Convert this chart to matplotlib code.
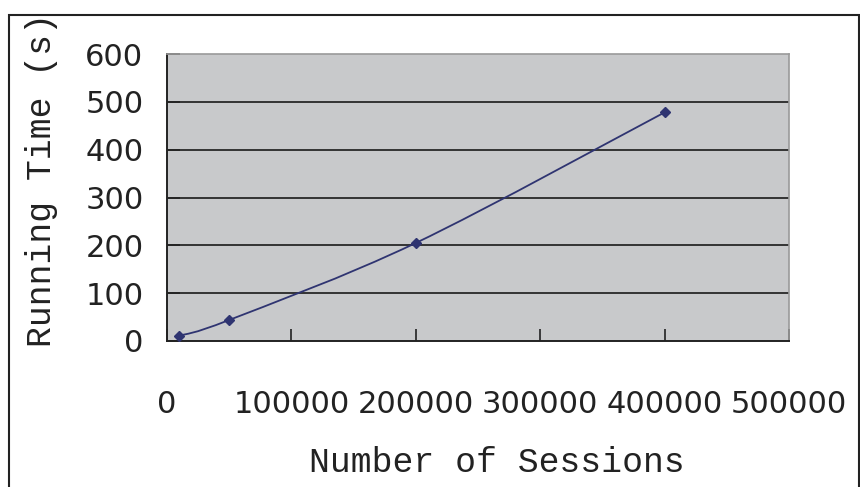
import matplotlib.pyplot as plt
from matplotlib.path import Path
from matplotlib.patches import PathPatch, Rectangle

# measured running time vs. number of sessions
sessions = [10000, 50000, 200000, 400000]
run_time = [11, 44, 205, 478]

x_ticks = [0, 100000, 200000, 300000, 400000, 500000]
y_ticks = [0, 100, 200, 300, 400, 500, 600]

mono = 'Liberation Mono'
line_col = '#2f3471'

fig = plt.figure(figsize=(8.6, 4.87), dpi=100)
ax = fig.add_axes([0.1942, 0.2998, 0.7233, 0.5893])
ax.set_facecolor('#c8c9cb')

ax.set_xlim(0, 500000)
ax.set_ylim(0, 600)
ax.set_xticks(x_ticks)
ax.set_yticks(y_ticks)
ax.set_xticklabels([str(v) for v in x_ticks])
ax.set_yticklabels([str(v) for v in y_ticks])

for v in y_ticks[1:-1]:
    ax.axhline(v, color='#1a1a1a', lw=1.2, zorder=1)

# smoothed line (catmull-rom style bezier through the points)
pts = list(zip(sessions, run_time))
verts = [pts[0]]
codes = [Path.MOVETO]
for i in range(len(pts) - 1):
    p0 = pts[max(i - 1, 0)]
    p1 = pts[i]
    p2 = pts[i + 1]
    p3 = pts[min(i + 2, len(pts) - 1)]
    c1 = (p1[0] + (p2[0] - p0[0]) / 6, p1[1] + (p2[1] - p0[1]) / 6)
    c2 = (p2[0] - (p3[0] - p1[0]) / 6, p2[1] - (p3[1] - p1[1]) / 6)
    verts += [c1, c2, p2]
    codes += [Path.CURVE4] * 3
ax.add_patch(PathPatch(Path(verts, codes), fill=False, edgecolor=line_col, lw=1.3, zorder=3))
ax.plot(sessions, run_time, ls='none', marker='D', ms=5, color=line_col, zorder=4)

for s in ['left', 'bottom']:
    ax.spines[s].set_color('#222222')
    ax.spines[s].set_linewidth(1.4)
for s in ['top', 'right']:
    ax.spines[s].set_color('#9a9a9a')
    ax.spines[s].set_linewidth(1.2)

ax.tick_params(axis='both', direction='in', length=9, width=1.2, color='#222222',
               labelsize=22, labelcolor='#222222')
ax.tick_params(axis='y', pad=17)
ax.tick_params(axis='x', pad=35)

fig.text(0.5779, 1 - 463 / 487, 'Number of Sessions', family=mono, fontsize=25,
         ha='center', va='center', color='#222222')
fig.text(42 / 860, 1 - 180 / 487, 'Running Time (s)', family=mono, fontsize=25,
         rotation=90, ha='center', va='center', color='#222222')

# outer frame
fig.patches.append(Rectangle((9 / 860, -0.05), 850 / 860, 1.05 - 15 / 487,
                             transform=fig.transFigure, fill=False,
                             edgecolor='#222222', lw=1.5))

fig.savefig('out.png', dpi=100)
